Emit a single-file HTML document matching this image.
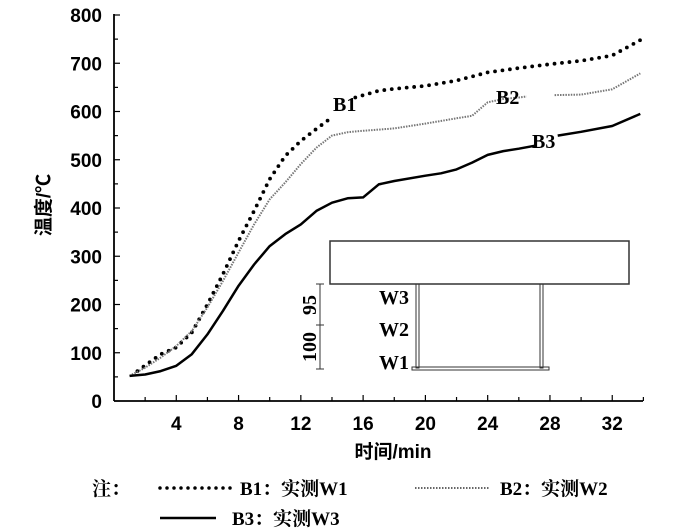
<!DOCTYPE html>
<html><head><meta charset="utf-8"><style>
body{margin:0;background:#fff;width:700px;height:530px;overflow:hidden}
svg{display:block}
.tk{font-family:"Liberation Sans","Noto Sans CJK SC",sans-serif;font-size:19px;font-weight:bold;fill:#000}
.sf{font-family:"Liberation Serif","Noto Serif CJK SC",serif;font-size:20px;font-weight:bold;fill:#000}
.lg{font-family:"Liberation Serif","Noto Serif CJK SC",serif;font-size:19px;font-weight:bold;fill:#000}
</style></head><body>
<svg id="chart" width="700" height="530">
<g id="axes"></g>
<g id="series"></g>
<g>
<text class="sf" x="333" y="111">B1</text>
<text class="sf" x="496" y="104">B2</text>
<text class="sf" x="532" y="148">B3</text>
</g>
<g stroke="#333" fill="none">
<rect x="330" y="241" width="299" height="43" stroke-width="1.5"/>
<rect x="416" y="284" width="3" height="84" stroke-width="1"/>
<rect x="540" y="284" width="3" height="84" stroke-width="1"/>
<rect x="412" y="367" width="137" height="3" stroke-width="1"/>
<line x1="320" y1="284" x2="320" y2="369" stroke-width="1"/>
<line x1="316" y1="284" x2="324" y2="284" stroke-width="1"/>
<line x1="316" y1="325" x2="324" y2="325" stroke-width="1"/>
<line x1="316" y1="369" x2="324" y2="369" stroke-width="1"/>
</g>
<g>
<text class="sf" x="409" y="304" text-anchor="end">W3</text>
<text class="sf" x="409" y="336" text-anchor="end">W2</text>
<text class="sf" x="409" y="369" text-anchor="end">W1</text>
<text class="sf" transform="translate(316,305) rotate(-90)" text-anchor="middle">95</text>
<text class="sf" transform="translate(316,347) rotate(-90)" text-anchor="middle">100</text>
</g>
<text class="tk" transform="translate(50,205) rotate(-90)" text-anchor="middle">温度/℃</text>
<text class="tk" x="393" y="458" text-anchor="middle">时间/min</text>
<g>
<text class="lg" x="92" y="495">注：</text>
<line x1="160" y1="488" x2="234" y2="488" stroke="#000" stroke-width="3.5" stroke-linecap="round" stroke-dasharray="0 7"/>
<text class="lg" x="240" y="495">B1：实测W1</text>
<line x1="415" y1="488" x2="490" y2="488" stroke="#666" stroke-width="2" stroke-dasharray="1.5 1.5"/>
<text class="lg" x="500" y="495">B2：实测W2</text>
<line x1="160" y1="518" x2="216" y2="518" stroke="#000" stroke-width="2.5"/>
<text class="lg" x="232" y="525">B3：实测W3</text>
</g>
</svg>
<script>
const xTicks=[4,8,12,16,20,24,28,32];
const yTicks=[0,100,200,300,400,500,600,700,800];
const b1T=[1.5,3,4,5,6,7,8,9,10,11,12,13,14];
const b1V=[62,97,111,142,200,263,332,394,460,508,539,564,588];
const b1T2=[15.5,17,18,20,22,24,26,28,30,32,33.8];
const b1V2=[629,643,647,653,664,681,690,698,705,716,748];
const b2T=[1,2,3,4,5,6,7,8,9,10,11,12,13,14,15,16,18,20,22,23,24,25,26,26.5];
const b2V=[52,69,90,114,145,194,249,308,366,418,453,491,525,550,557,560,565,575,586,591,619,626,629,631];
const b2T2=[28.3,30,32,33.8];
const b2V2=[634,635,646,679];
const b3T=[1,2,3,4,5,6,7,8,9,10,11,12,13,14,15,16,17,18,20,21,22,23,24,25,26,27];
const b3V=[52,55,62,73,97,138,187,239,283,321,346,366,394,411,420,422,449,456,467,472,480,494,510,518,523,529];
const b3T2=[28.5,30,32,33.8];
const b3V2=[550,558,570,595];
const X0=114,XS=15.57,Y0=401,YS=0.4825;
function sx(t){return X0+t*XS}
function sy(v){return Y0-v*YS}
const NS="http://www.w3.org/2000/svg";
const ax=document.getElementById('axes'),se=document.getElementById('series');
function mk(tag,at,par){const e=document.createElementNS(NS,tag);for(const k in at)e.setAttribute(k,at[k]);par.appendChild(e);return e}
let a=mk('line',{x1:X0,y1:sy(0),x2:X0,y2:sy(800)-1,stroke:'#000','stroke-width':1.8},ax);


a=mk('line',{x1:X0,y1:Y0,x2:643,y2:Y0,stroke:'#000','stroke-width':1.8},ax);


for(let v=0;v<=800;v+=50){mk('line',{x1:X0,y1:sy(v),x2:X0+(v%100?4:6),y2:sy(v),stroke:'#000','stroke-width':1.2},ax)}
for(let t=2;t<=34;t+=2){mk('line',{x1:sx(t),y1:Y0,x2:sx(t),y2:Y0-(t%4?4:6),stroke:'#000','stroke-width':1.2},ax)}
yTicks.forEach(v=>{const e=mk('text',{x:X0-12,y:sy(v)+7,'text-anchor':'end',class:'tk'},ax);e.textContent=v;

});
xTicks.forEach(t=>{const e=mk('text',{x:sx(t),y:Y0+29,'text-anchor':'middle',class:'tk'},ax);e.textContent=t;

});
function path(T,V){return T.map((t,i)=>(i?'L':'M')+sx(t).toFixed(1)+' '+sy(V[i]).toFixed(1)).join(' ')}
function draw(T,V,st,name){const p=mk('path',Object.assign({d:path(T,V),fill:'none'},st),se);

}
const s1={stroke:'#000','stroke-width':3.8,'stroke-linecap':'round','stroke-dasharray':'0 7.5','stroke-linejoin':'round'};
const s2={stroke:'#777','stroke-width':2,'stroke-dasharray':'1.5 1.2'};
const s3={stroke:'#000','stroke-width':2.5,'stroke-linejoin':'round'};
draw(b1T,b1V,s1,'series-b1');draw(b1T2,b1V2,s1,'series-b1-tail');
draw(b2T,b2V,s2,'series-b2');draw(b2T2,b2V2,s2,'series-b2-tail');
draw(b3T,b3V,s3,'series-b3');draw(b3T2,b3V2,s3,'series-b3-tail');
</script>
</body></html>
